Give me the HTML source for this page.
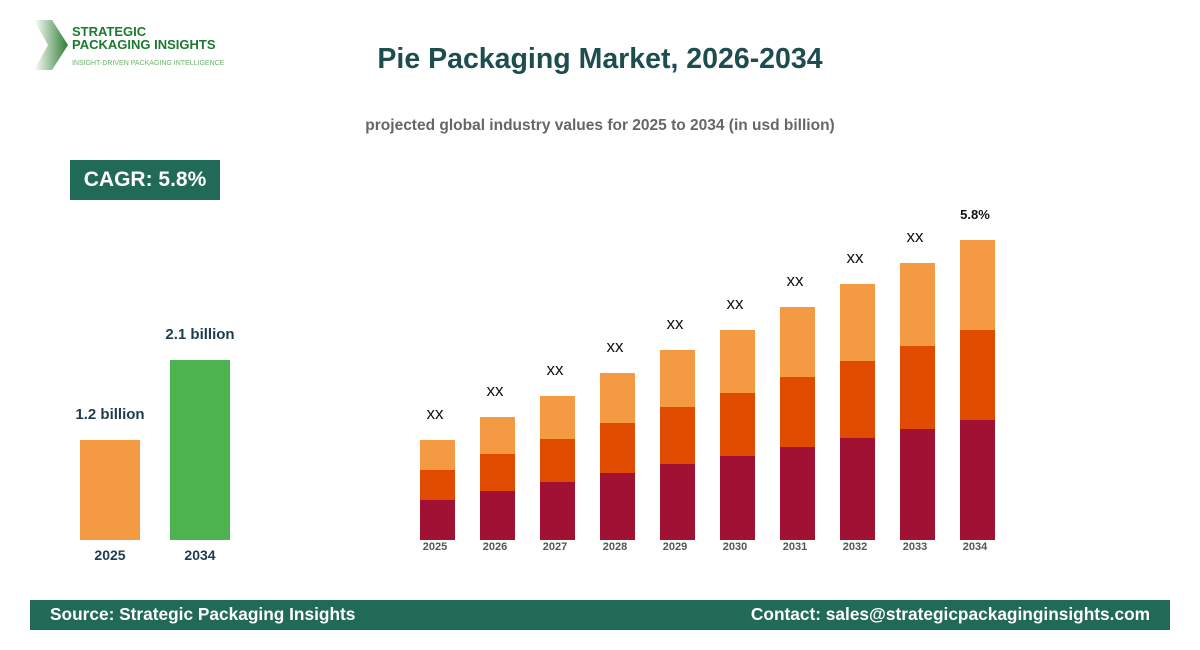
<!DOCTYPE html>
<html><head><style>
body{margin:0;width:1200px;height:650px;background:#fff;font-family:"Liberation Sans",sans-serif;position:relative;overflow:hidden}
.a{position:absolute}
.bar{position:absolute;width:35px}
.yl{position:absolute;width:60px;text-align:center;font-size:11px;font-weight:bold;color:#555;top:541px}
.xx{position:absolute;width:60px;text-align:center;font-size:17px;color:#111}
</style></head><body>
<svg class="a" style="left:34px;top:20px" width="36" height="50"><defs><linearGradient id="g" x1="0" x2="1"><stop offset="0" stop-color="#fff"/><stop offset="1" stop-color="#2e7d32"/></linearGradient></defs><polygon points="0,0 18,0 34,25 18,50 0,50 14,25" fill="url(#g)"/></svg>
<div class="a" style="left:72px;top:25px;font-size:13px;font-weight:bold;color:#1b7a2e;line-height:13px">STRATEGIC<br>PACKAGING INSIGHTS</div>
<div class="a" style="left:72px;top:60px;font-size:7px;color:#6bb36b">INSIGHT-DRIVEN PACKAGING INTELLIGENCE</div>
<div class="a" style="left:0;width:1200px;top:43px;text-align:center;font-size:28.5px;font-weight:bold;color:#1d4d4f">Pie Packaging Market, 2026-2034</div>
<div class="a" style="left:0;width:1200px;top:117px;text-align:center;font-size:15.5px;font-weight:bold;color:#666">projected global industry values for 2025 to 2034 (in usd billion)</div>
<div class="a" style="left:70px;top:160px;width:150px;height:40px;background:#216a58;color:#fff;font-size:21px;font-weight:bold;line-height:40px;text-align:center">CAGR: 5.8%</div>
<div class="a" style="left:80px;top:440px;width:60px;height:100px;background:#f49a43"></div>
<div class="a" style="left:170px;top:360px;width:60px;height:180px;background:#4cb34f"></div>
<div class="a" style="left:60px;width:100px;top:406px;text-align:center;font-size:15px;font-weight:bold;color:#1d3d4f">1.2 billion</div>
<div class="a" style="left:150px;width:100px;top:326px;text-align:center;font-size:15px;font-weight:bold;color:#1d3d4f">2.1 billion</div>
<div class="a" style="left:80px;width:60px;top:547px;text-align:center;font-size:14px;font-weight:bold;color:#1d3d4f">2025</div>
<div class="a" style="left:170px;width:60px;top:547px;text-align:center;font-size:14px;font-weight:bold;color:#1d3d4f">2034</div>
<div id="c"></div>
<script>
var tops=[440,417,396,373,350,330,307,284,263,240],h="";
for(var i=0;i<10;i++){var x=420+60*i,t=tops[i],H=540-t,a=Math.round(t+0.3*H),b=Math.round(t+0.6*H);
h+='<div class="bar" style="left:'+x+'px;top:'+t+'px;height:'+(a-t)+'px;background:#f49a43"></div>';
h+='<div class="bar" style="left:'+x+'px;top:'+a+'px;height:'+(b-a)+'px;background:#e04b00"></div>';
h+='<div class="bar" style="left:'+x+'px;top:'+b+'px;height:'+(540-b)+'px;background:#a01133"></div>';
h+='<div class="yl" style="left:'+(x-15)+'px">'+(2025+i)+'</div>';
h+='<div class="xx" style="left:'+(x-15)+'px;top:'+(t-(i==9?33:36))+'px;'+(i==9?'font-size:13px;font-weight:bold':'')+'">'+(i==9?'5.8%':'xx')+'</div>';}
document.getElementById('c').innerHTML=h;
</script>
<div class="a" style="left:30px;top:600px;width:1140px;height:30px;background:#216a58"></div>
<div class="a" style="left:50px;top:604px;font-size:17.3px;font-weight:bold;color:#fff">Source: Strategic Packaging Insights</div>
<div class="a" style="right:50px;top:604px;font-size:17.3px;font-weight:bold;color:#fff">Contact: sales@strategicpackaginginsights.com</div>
</body></html>
